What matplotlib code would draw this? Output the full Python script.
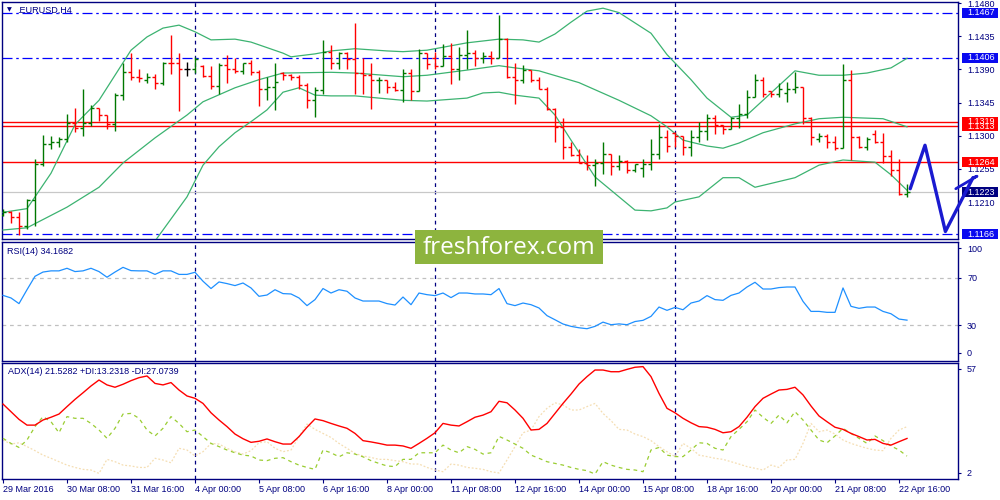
import matplotlib.pyplot as plt
from matplotlib.patches import Rectangle
from matplotlib.transforms import blended_transform_factory

plt.rcParams['font.family'] = ['Liberation Sans', 'DejaVu Sans']

NAVY = '#000080'

# EURUSD H4 bars, 29 Mar 2016 .. 22 Apr 2016
opens = [1.1192, 1.1197, 1.1189, 1.1178, 1.1213, 1.1262, 1.1289, 1.1291, 1.1296, 1.1317,
         1.1310, 1.1317, 1.1337, 1.1328, 1.1316, 1.1355, 1.1387, 1.1379, 1.1376, 1.1379,
         1.1371, 1.1399, 1.1398, 1.1391, 1.1391, 1.1395, 1.1381, 1.1367, 1.1396, 1.1391,
         1.1388, 1.1398, 1.1387, 1.1364, 1.1366, 1.1385, 1.1382, 1.1380, 1.1369, 1.1348,
         1.1362, 1.1414, 1.1398, 1.1412, 1.1404, 1.1385, 1.1382, 1.1375, 1.1376, 1.1366,
         1.1362, 1.1385, 1.1361, 1.1412, 1.1405, 1.1394, 1.1408, 1.1391, 1.1409, 1.1412,
         1.1406, 1.1408, 1.1405, 1.1431, 1.1380, 1.1375, 1.1389, 1.1376, 1.1364, 1.1336,
         1.1312, 1.1285, 1.1274, 1.1263, 1.1260, 1.1263, 1.1275, 1.1259, 1.1265, 1.1253,
         1.1256, 1.1262, 1.1275, 1.1298, 1.1303, 1.1299, 1.1285, 1.1298, 1.1307, 1.1324,
         1.1314, 1.1309, 1.1324, 1.1329, 1.1353, 1.1375, 1.1360, 1.1356, 1.1358, 1.1364,
         1.1366, 1.1324, 1.1296, 1.1300, 1.1292, 1.1283, 1.1376, 1.1298, 1.1285, 1.1302,
         1.1292, 1.1272, 1.1254, 1.1221]
highs = [1.1200, 1.1198, 1.1197, 1.1214, 1.1269, 1.1301, 1.1299, 1.1298, 1.1330, 1.1337,
         1.1364, 1.1342, 1.1338, 1.1328, 1.1358, 1.1398, 1.1412, 1.1391, 1.1385, 1.1384,
         1.1400, 1.1437, 1.1412, 1.1400, 1.1407, 1.1396, 1.1394, 1.1398, 1.1409, 1.1405,
         1.1399, 1.1403, 1.1389, 1.1380, 1.1398, 1.1387, 1.1384, 1.1382, 1.1372, 1.1366,
         1.1430, 1.1423, 1.1414, 1.1413, 1.1453, 1.1405, 1.1398, 1.1379, 1.1376, 1.1373,
         1.1391, 1.1391, 1.1417, 1.1412, 1.1414, 1.1425, 1.1426, 1.1421, 1.1444, 1.1416,
         1.1413, 1.1415, 1.1464, 1.1433, 1.1398, 1.1396, 1.1389, 1.1380, 1.1366, 1.1338,
         1.1324, 1.1291, 1.1282, 1.1274, 1.1268, 1.1292, 1.1275, 1.1274, 1.1267, 1.1262,
         1.1269, 1.1295, 1.1316, 1.1308, 1.1305, 1.1299, 1.1308, 1.1318, 1.1330, 1.1328,
         1.1314, 1.1325, 1.1343, 1.1362, 1.1384, 1.1380, 1.1360, 1.1372, 1.1373, 1.1387,
         1.1366, 1.1326, 1.1304, 1.1302, 1.1299, 1.1397, 1.1389, 1.1300, 1.1298, 1.1308,
         1.1303, 1.1281, 1.1269, 1.1235]
lows = [1.1191, 1.1181, 1.1165, 1.1174, 1.1177, 1.1259, 1.1282, 1.1284, 1.1292, 1.1305,
        1.1299, 1.1313, 1.1320, 1.1309, 1.1307, 1.1348, 1.1376, 1.1373, 1.1372, 1.1364,
        1.1369, 1.1384, 1.1333, 1.1381, 1.1385, 1.1380, 1.1364, 1.1357, 1.1371, 1.1385,
        1.1384, 1.1382, 1.1340, 1.1349, 1.1335, 1.1376, 1.1375, 1.1364, 1.1338, 1.1325,
        1.1357, 1.1391, 1.1391, 1.1391, 1.1357, 1.1356, 1.1336, 1.1358, 1.1358, 1.1360,
        1.1346, 1.1349, 1.1360, 1.1391, 1.1391, 1.1394, 1.1370, 1.1376, 1.1391, 1.1394,
        1.1398, 1.1397, 1.1405, 1.1378, 1.1343, 1.1371, 1.1373, 1.1364, 1.1335, 1.1292,
        1.1269, 1.1272, 1.1263, 1.1253, 1.1232, 1.1248, 1.1247, 1.1253, 1.1249, 1.1251,
        1.1244, 1.1254, 1.1269, 1.1278, 1.1285, 1.1274, 1.1272, 1.1292, 1.1294, 1.1302,
        1.1302, 1.1309, 1.1311, 1.1324, 1.1353, 1.1353, 1.1353, 1.1353, 1.1346, 1.1358,
        1.1316, 1.1287, 1.1292, 1.1283, 1.1281, 1.1283, 1.1267, 1.1283, 1.1281, 1.1290,
        1.1263, 1.1245, 1.1220, 1.1217]
closes = [1.1197, 1.1189, 1.1178, 1.1213, 1.1262, 1.1289, 1.1291, 1.1296, 1.1317, 1.1310,
          1.1317, 1.1337, 1.1328, 1.1316, 1.1355, 1.1387, 1.1379, 1.1378, 1.1379, 1.1371,
          1.1399, 1.1398, 1.1390, 1.1391, 1.1404, 1.1381, 1.1367, 1.1396, 1.1391, 1.1388,
          1.1398, 1.1387, 1.1364, 1.1366, 1.1373, 1.1382, 1.1380, 1.1369, 1.1348, 1.1362,
          1.1414, 1.1398, 1.1412, 1.1404, 1.1385, 1.1382, 1.1375, 1.1376, 1.1366, 1.1362,
          1.1385, 1.1361, 1.1412, 1.1397, 1.1394, 1.1408, 1.1391, 1.1409, 1.1412, 1.1406,
          1.1408, 1.1405, 1.1431, 1.1380, 1.1375, 1.1389, 1.1376, 1.1364, 1.1336, 1.1312,
          1.1285, 1.1274, 1.1263, 1.1260, 1.1263, 1.1275, 1.1259, 1.1265, 1.1253, 1.1262,
          1.1262, 1.1275, 1.1298, 1.1286, 1.1299, 1.1285, 1.1298, 1.1307, 1.1324, 1.1314,
          1.1309, 1.1324, 1.1329, 1.1353, 1.1375, 1.1357, 1.1356, 1.1363, 1.1364, 1.1366,
          1.1324, 1.1298, 1.1300, 1.1292, 1.1283, 1.1376, 1.1298, 1.1285, 1.1296, 1.1292,
          1.1272, 1.1254, 1.1221, 1.1223]

# Bollinger bands (bar index, price)
bb_upper_idx = [0, 3, 6, 9, 12, 14, 16, 18, 20, 22, 24, 26, 29, 31, 35, 36, 39, 41, 44, 48,
                50, 53, 56, 58, 62, 65, 67, 69, 71, 73, 75, 77, 78, 81, 83, 86, 88, 91, 93, 95,
                99, 102, 105, 108, 111, 113]
bb_upper = [1.1196, 1.1201, 1.1249, 1.1315, 1.1348, 1.1382, 1.1416, 1.1434, 1.1446, 1.1450,
            1.1441, 1.1430, 1.1431, 1.1427, 1.1412, 1.1407, 1.1411, 1.1415, 1.1418, 1.1415,
            1.1414, 1.1416, 1.1422, 1.1426, 1.1431, 1.1430, 1.1427, 1.1438, 1.1454, 1.1469,
            1.1473, 1.1467, 1.1460, 1.1439, 1.1410, 1.1376, 1.1351, 1.1325, 1.1328, 1.1348,
            1.1388, 1.1382, 1.1382, 1.1385, 1.1392, 1.1405]
bb_mid_idx = [0, 3, 8, 12, 15, 19, 23, 25, 29, 32, 35, 41, 44, 50, 53, 58, 62, 64, 67, 72,
              77, 81, 83, 85, 88, 90, 92, 95, 99, 102, 105, 110, 113]
bb_mid = [1.1172, 1.1175, 1.1203, 1.1230, 1.1263, 1.1297, 1.1328, 1.1346, 1.1365, 1.1376,
          1.1385, 1.1386, 1.1385, 1.1380, 1.1382, 1.1389, 1.1395, 1.1392, 1.1388, 1.1372,
          1.1348, 1.1327, 1.1312, 1.1294, 1.1286, 1.1283, 1.1290, 1.1304, 1.1316, 1.1323,
          1.1325, 1.1323, 1.1312]
bb_lower_idx = [19, 23, 25, 27, 29, 31, 33, 35, 37, 39, 41, 44, 50, 53, 58, 60, 62, 64, 67, 69,
                71, 74, 77, 79, 81, 83, 84, 87, 90, 92, 94, 99, 102, 105, 109, 111, 113]
bb_lower = [1.1157, 1.1217, 1.1260, 1.1285, 1.1304, 1.1319, 1.1335, 1.1359, 1.1365, 1.1355,
            1.1354, 1.1354, 1.1348, 1.1347, 1.1351, 1.1358, 1.1359, 1.1355, 1.1351, 1.1328,
            1.1294, 1.1244, 1.1217, 1.1199, 1.1198, 1.1202, 1.1210, 1.1217, 1.1243, 1.1243,
            1.1230, 1.1243, 1.1260, 1.1267, 1.1264, 1.1247, 1.1226]

rsi = [55.2, 53, 48.2, 60, 71.4, 75, 76, 76, 78.2, 75.4, 76, 78.2, 75.4, 70.6, 75, 79, 76.2, 76,
       76, 73, 76, 76, 73, 73, 74.8, 67.2, 61, 66.6, 65.2, 63.5, 65.7, 61.5, 54.4, 55.5, 60,
       56.7, 56.4, 53, 46.5, 51.6, 61, 57.2, 60, 58.7, 53, 50.4, 50.4, 50.4, 48.2, 47, 53.8,
       47.3, 57.2, 55.8, 55, 57.2, 53.3, 57.2, 57.2, 56.4, 56.4, 55.8, 61,
       48.2, 46.5, 48.7, 47.3, 44.5, 38, 34.5, 30.9, 28.9, 27.7, 26.9, 28.9, 32.5, 30.3, 31,
       30.3, 33, 34, 37.4, 45.3, 42.5, 45, 43, 48.7, 50.4, 55, 51.6, 51, 55.2, 57.2, 62.3,
       66.3, 60.6, 60.6, 61.8, 62.3, 62.3, 50.1, 41.6, 41.6, 40.8, 40.8, 61.5, 45.9, 44.2,
       45.3, 45.3, 41.6, 39.6, 35.1, 34.17]

adx = [37.7, 34.1, 30.5, 27.8, 27.8, 30.2, 31.5, 33, 36.5, 39.9, 43, 46.2, 49, 46.7, 45.6, 47,
       48.7, 50.1, 50.9, 47.4, 46.7, 47.8, 44.3, 41.5, 40.4, 38, 33.6, 30.2, 27.1, 23.6, 21.4,
       19.7, 20.2, 21.3, 20, 18.9, 18.9, 22.4, 26.8, 30.7, 29.9, 28.6, 27.4, 26.3, 23.9, 20.5,
       19.9, 19.2, 18.4, 18.4, 18, 16.9, 19.2, 21.6, 24.2, 28.6, 27.8, 27.4, 29.4, 31.5, 32.5,
       34.1, 39,
       38.3, 34.9, 31, 25.5, 25.8, 28.6, 33.3, 38, 42.4, 47.1, 50.6, 53.7, 53.7, 52.9, 52.9,
       54, 55, 55.3, 50.6, 42.7, 35.7, 33.6, 31, 28.9, 27.1, 26.8, 25.8, 24.2, 24.7, 27.1,
       31.5, 36.5, 40.4, 42.4, 44.3, 44.6, 45.6, 42, 36.8, 32.1, 29.4, 26.8, 25.8, 23.9, 22.4,
       20.8, 21.1, 19.2, 18.4, 20, 21.53]
plus_di = [21.6, 19.2, 17.3, 20.8, 27.1, 31.8, 29.4, 24.2, 31.8, 31, 31, 28.6, 25.5, 21.6, 26.3,
           33, 33.3, 31, 25.5, 22.7, 26.3, 31.8, 28.6, 24.7, 25.5, 22.4, 19.2, 17.7, 16.1, 14.8,
           13.7, 13.3, 11.4, 11.1, 12.2, 12.5, 10.6, 9, 7.9, 7, 16.1, 14.8, 12.9, 14.8, 14.2,
           12.9, 11.1, 9.8, 8.6, 8.3, 11.7, 11.7, 14.8, 14.8, 14.8, 18.4, 16.1, 14.8, 17.7, 16.4,
           14.2, 14.8, 22.5,
           20.8, 18.9, 16.9, 13.7, 12.2, 10.6, 9.8, 9, 7.9, 7, 6.4, 4.8, 10.6, 9, 7.9, 7, 6.7,
           5.9, 16.1, 17.3, 13.7, 13, 13, 16.1, 19.5, 19.2, 16.9, 16.1, 22.4, 25.8, 29.4, 34.9,
           31.5, 28.6, 32.5, 28.9, 34.1, 30.2, 25.5, 20.8, 19.5, 22.7, 26.3, 23.9, 21.6, 19.2,
           22.7, 20.5, 18, 16.1, 13.23]
minus_di = [20.8, 18.9, 19.5, 17.7, 15.8, 13.7, 12.2, 10.6, 9, 7.9, 7, 6.7, 5.1, 11.7, 10.6, 9,
            8.6, 7.9, 7.9, 12.2, 11.4, 10.1, 16.9, 16.1, 13.3, 15.3, 19.2, 18.9, 16.9, 15.3,
            14.2, 15.8, 19.5, 20, 16.9, 15.3, 16.1, 22.4, 28.3, 25.8, 23.9, 22, 19.2, 16.9,
            14.5, 13.3, 12.6, 11.7, 11.7, 11.1, 10.6, 9.5, 9.5, 7.9, 6.7, 5.9, 9.5, 9, 7.9, 7.5,
            7, 5.9, 5.3,
            11.4, 17.7, 24.2, 25.5, 31.8, 35.7, 38.3, 37.3, 34.9, 34.9, 36.5, 38, 33.3, 29.9,
            25.8, 25.5, 23.6, 22.4, 20.5, 17.7, 15.3, 13, 19.2, 16.9, 13.7, 13, 12.2, 11.7, 10.6,
            9.5, 8.3, 7.5, 6.7, 9, 7.9, 11.4, 11.7, 19.2, 28.6, 24.7, 25.5, 23.6, 20.8, 19.2, 18,
            16.9, 16.1, 15.8, 21.6, 25.5, 27.07]

time_labels = ['29 Mar 2016', '30 Mar 08:00', '31 Mar 16:00', '4 Apr 00:00', '5 Apr 08:00',
               '6 Apr 16:00', '8 Apr 00:00', '11 Apr 08:00', '12 Apr 16:00', '14 Apr 00:00',
               '15 Apr 08:00', '18 Apr 16:00', '20 Apr 00:00', '21 Apr 08:00', '22 Apr 16:00']
week_starts = [24, 54, 84]

blue_levels = [1.1467, 1.1406, 1.1166]
red_levels = [1.1313, 1.1319, 1.1264]
bid = 1.1223
price_ticks = [1.1480, 1.1435, 1.1390, 1.1345, 1.1300, 1.1255, 1.1210]

# hand drawn forecast
forecast_x = [113.4, 115.25, 117.8, 121.25]
forecast_y = [1.1228, 1.1287, 1.1170, 1.1243]
head_x = [119.1, 121.75, 121.25]
head_y = [1.1228, 1.1245, 1.1243]

n = len(closes)
idx = list(range(n))

fig = plt.figure(figsize=(10, 5), dpi=100)
fig.patch.set_facecolor('white')

ax = fig.add_axes([0.002, 0.522, 0.956, 0.474])
ax_rsi = fig.add_axes([0.002, 0.278, 0.956, 0.238])
ax_adx = fig.add_axes([0.002, 0.042, 0.956, 0.232])

for a in (ax, ax_rsi, ax_adx):
    a.set_xlim(-0.125, 119.375)
    for s in a.spines.values():
        s.set_color(NAVY)
        s.set_linewidth(1.0)
    a.yaxis.tick_right()
    a.tick_params(axis='y', colors=NAVY, labelcolor=NAVY, labelsize=6.5, length=2.5, pad=4,
                  width=0.8)
    a.tick_params(axis='x', bottom=False, labelbottom=False)
    for w in week_starts:
        a.axvline(w, color=NAVY, lw=0.9, ls=(0, (3, 3)), zorder=1)

# main price panel
ax.set_ylim(1.11598, 1.14814)
ax.set_yticks(price_ticks)
ax.set_yticklabels(['%.4f' % p for p in price_ticks])

for lvl in blue_levels:
    ax.axhline(lvl, color='#0000ff', lw=0.9, ls=(0, (8, 3, 2, 3)), zorder=2)
for lvl in red_levels:
    ax.axhline(lvl, color='#ff0000', lw=1.0, zorder=2)
ax.axhline(bid, color='#c8c8c8', lw=0.9, zorder=1)

ax.plot(bb_upper_idx, bb_upper, color='#3cb371', lw=0.9, zorder=3)
ax.plot(bb_mid_idx, bb_mid, color='#3cb371', lw=0.9, zorder=3)
ax.plot(bb_lower_idx, bb_lower, color='#3cb371', lw=0.9, zorder=3)

colors = []
for o, c in zip(opens, closes):
    if c > o:
        colors.append('#007800')
    elif c < o:
        colors.append('#ff0000')
    else:
        colors.append('black')
ax.vlines(idx, lows, highs, colors=colors, lw=1.0, zorder=4)
ax.hlines(opens, [i - 0.38 for i in idx], idx, colors=colors, lw=1.0, zorder=4)
ax.hlines(closes, idx, [i + 0.38 for i in idx], colors=colors, lw=1.0, zorder=4)

ax.plot(forecast_x, forecast_y, color='#1a1ad0', lw=2.4, solid_capstyle='round',
        solid_joinstyle='round', clip_on=False, zorder=8)
ax.plot(head_x, head_y, color='#1a1ad0', lw=2.0, solid_capstyle='round', clip_on=False,
        zorder=8)

# boxed price labels on the right scale
bt = blended_transform_factory(ax.transAxes, ax.transData)
box_labels = [(1.1467, '#0a0af0'), (1.1406, '#0a0af0'), (1.1166, '#0a0af0'),
              (1.1313, '#ff0000'), (1.1319, '#ff0000'), (1.1264, '#ff0000'), (bid, '#000080')]
half_h = 0.00068
for price, col in box_labels:
    ax.add_patch(Rectangle((1.0042, price - half_h), 0.0376, 2 * half_h, transform=bt,
                           facecolor=col, edgecolor='none', clip_on=False, zorder=6))
    ax.text(1.0094, price, '%.4f' % price, transform=bt, color='white', fontsize=6.5,
            va='center', ha='left', clip_on=False, zorder=7)

ax.text(0.005, 0.967, '\u25bc', transform=ax.transAxes, color=NAVY, fontsize=4.5,
        va='center', ha='left', family=['DejaVu Sans'])
ax.text(0.0157, 0.966, '.EURUSD,H4', transform=ax.transAxes, color=NAVY, fontsize=6.5,
        va='center', ha='left')

# RSI panel
ax_rsi.set_ylim(-0.5, 100.5)
ax_rsi.set_yticks([95, 70, 30, 6.5])
ax_rsi.set_yticklabels(['100', '70', '30', '0'])
for lvl in (70, 30):
    ax_rsi.axhline(lvl, color='#c0c0c0', lw=0.9, ls=(0, (3, 3)), zorder=1)
ax_rsi.plot(idx, rsi, color='#1e90ff', lw=0.9, zorder=3)
ax_rsi.text(0.0052, 0.924, 'RSI(14) 34.1682', transform=ax_rsi.transAxes, color=NAVY,
            fontsize=6.5, va='center', ha='left')

# ADX panel
ax_adx.set_ylim(2.47, 57)
ax_adx.set_yticks([54.2, 5.4])
ax_adx.set_yticklabels(['57', '2'])
ax_adx.plot(idx, minus_di, color='#f5deb3', lw=0.9, ls=(0, (1.5, 1.5)), zorder=2)
ax_adx.plot(idx, plus_di, color='#9acd32', lw=0.9, ls=(0, (3, 3)), zorder=3)
ax_adx.plot(idx, adx, color='#ff0000', lw=1.0, zorder=4)
ax_adx.text(0.0063, 0.931, 'ADX(14) 21.5282 +DI:13.2318 -DI:27.0739',
            transform=ax_adx.transAxes, color=NAVY, fontsize=6.5, va='center', ha='left')

ax_adx.set_xticks(list(range(0, n, 8)))
ax_adx.set_xticklabels(time_labels, ha='left')
ax_adx.tick_params(axis='x', bottom=True, labelbottom=True, colors=NAVY, labelcolor=NAVY,
                   labelsize=6.5, length=3, pad=1.5, width=0.8)

# watermark
fig.add_artist(Rectangle((0.415, 0.472), 0.188, 0.068, transform=fig.transFigure,
                         facecolor='#8db43e', edgecolor='none', zorder=20))
fig.text(0.509, 0.5045, 'freshforex.com', color='white', fontsize=17.5, family='Open Sans',
         ha='center', va='center', zorder=21)

fig.savefig('out.png', dpi=100)
